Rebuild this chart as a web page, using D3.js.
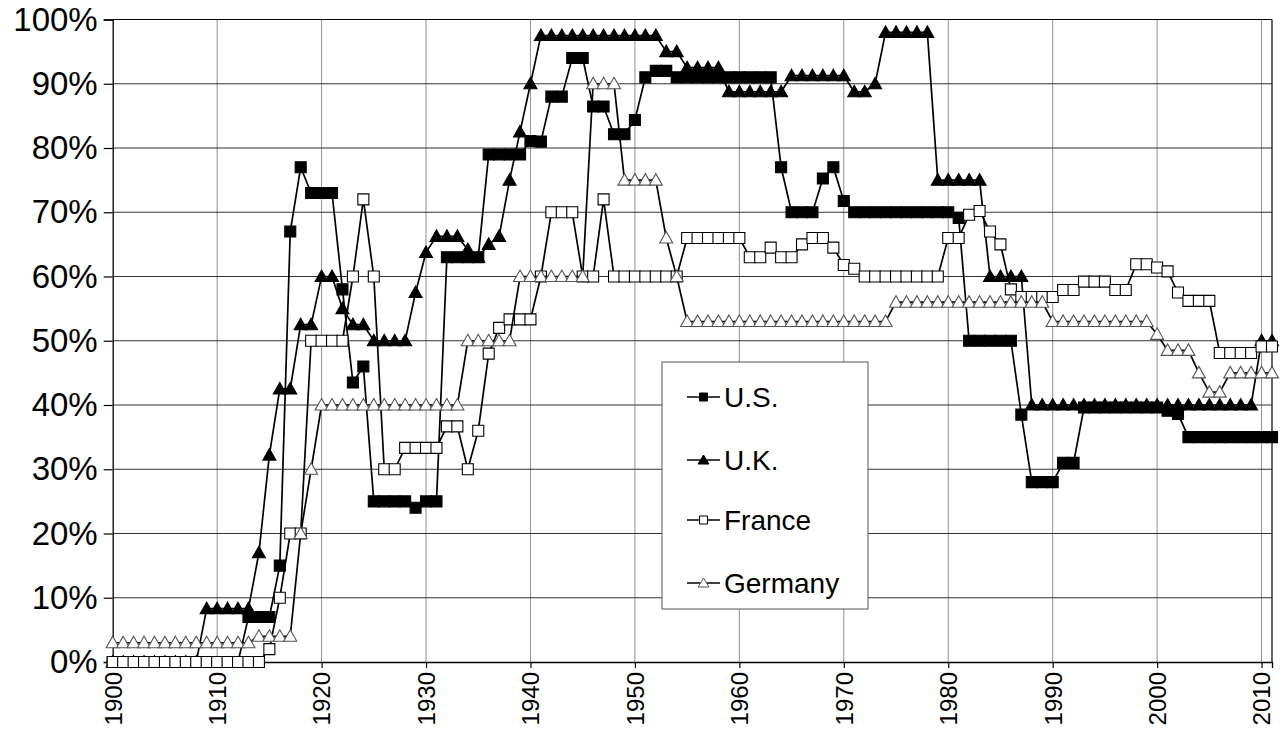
<!doctype html>
<html>
  <head>
    <meta charset="utf-8">
    <title>Top marginal income tax rates</title>
    <script src="https://cdnjs.cloudflare.com/ajax/libs/d3/7.8.5/d3.min.js"></script>
    <style>
      body { margin: 0; background: #fff; }
      text { font-family: "Liberation Sans", Arial, sans-serif; fill: #000; }
    </style>
  </head>
  <body>
    <div id="chart"></div>
    <script>
      // years 1900 .. 2011, one value per year (percent)
      const years = d3.range(1900, 2012);

      const us = [
        0, 0, 0, 0, 0, 0, 0, 0, 0, 0, 0, 0, 0,
        7, 7, 7, 15, 67, 77, 73, 73, 73, 58, 43.5, 46,
        25, 25, 25, 25, 24, 25, 25,
        63, 63, 63, 63, 79, 79, 79, 79, 81.1, 81, 88, 88, 94, 94,
        86.45, 86.45, 82.13, 82.13, 84.36, 91, 92, 92,
        91, 91, 91, 91, 91, 91, 91, 91, 91, 91,
        77, 70, 70, 70, 75.25, 77, 71.75,
        70, 70, 70, 70, 70, 70, 70, 70, 70, 70,
        69.13, 50, 50, 50, 50, 50, 38.5, 28, 28, 28, 31, 31,
        39.6, 39.6, 39.6, 39.6, 39.6, 39.6, 39.6, 39.6, 39.1, 38.6,
        35, 35, 35, 35, 35, 35, 35, 35, 35
      ];

      const uk = [
        0, 0, 0, 0, 0, 0, 0, 0, 0,
        8.3, 8.3, 8.3, 8.3, 8.3, 17, 32.2, 42.5, 42.5, 52.5, 52.5,
        60, 60, 55, 52.5, 52.5, 50, 50, 50, 50, 57.5, 63.75,
        66.25, 66.25, 66.25, 64.2, 63, 65, 66.25, 75, 82.5, 90,
        97.5, 97.5, 97.5, 97.5, 97.5, 97.5, 97.5, 97.5, 97.5, 97.5, 97.5, 97.5,
        95, 95, 92.5, 92.5, 92.5, 92.5,
        88.75, 88.75, 88.75, 88.75, 88.75, 88.75,
        91.25, 91.25, 91.25, 91.25, 91.25, 91.25, 88.75, 88.75, 90,
        98, 98, 98, 98, 98, 75, 75, 75, 75, 75, 60, 60, 60, 60,
        40, 40, 40, 40, 40, 40, 40, 40, 40, 40, 40,
        40, 40, 40, 40, 40, 40, 40, 40, 40, 40, 40,
        50, 50
      ];

      const france = [
        0, 0, 0, 0, 0, 0, 0, 0, 0, 0, 0, 0, 0, 0, 0,
        2, 10, 20, 20, 50, 50, 50, 50, 60, 72, 60, 30, 30,
        33.33, 33.33, 33.33, 33.33, 36.67, 36.67, 30, 36, 48, 52,
        53.33, 53.33, 53.33, 60, 70, 70, 70, 60, 60, 72,
        60, 60, 60, 60, 60, 60, 60, 66, 66, 66, 66, 66, 66,
        63, 63, 64.5, 63, 63, 65, 66, 66, 64.5, 61.8, 61.2,
        60, 60, 60, 60, 60, 60, 60, 60, 66, 66, 69.6, 70.2, 67, 65, 58,
        56.8, 56.8, 56.8, 56.8, 57.9, 57.9, 59.2, 59.2, 59.2, 57.9, 57.9,
        61.9, 61.9, 61.4, 60.8, 57.5, 56.2, 56.2, 56.2,
        48.1, 48.1, 48.1, 48.1, 49.1, 49.1
      ];

      const germany = [
        3, 3, 3, 3, 3, 3, 3, 3, 3, 3, 3, 3, 3, 3,
        4, 4, 4, 4, 20, 30,
        40, 40, 40, 40, 40, 40, 40, 40, 40, 40, 40, 40, 40, 40,
        50, 50, 50, 50, 50, 60, 60, 60, 60, 60, 60, 60,
        90, 90, 90, 75, 75, 75, 75, 66, 60,
        53, 53, 53, 53, 53, 53, 53, 53, 53, 53,
        53, 53, 53, 53, 53, 53, 53, 53, 53, 53,
        56, 56, 56, 56, 56, 56, 56, 56, 56, 56, 56, 56, 56, 56, 56,
        53, 53, 53, 53, 53, 53, 53, 53, 53, 53,
        51, 48.5, 48.5, 48.5, 45, 42, 42, 45, 45, 45, 45, 45
      ];

      const yTicks = [0, 10, 20, 30, 40, 50, 60, 70, 80, 90, 100];
      const xTicks = d3.range(1900, 2011, 10);

      const series = [
        { name: 'U.S.', values: us, shape: 'square', fill: '#000', stroke: '#000' },
        { name: 'U.K.', values: uk, shape: 'triangle', fill: '#000', stroke: '#000' },
        { name: 'France', values: france, shape: 'square', fill: '#fff', stroke: '#000' },
        { name: 'Germany', values: germany, shape: 'triangle', fill: '#fff', stroke: '#555' }
      ];

      const W = 1285, H = 734;
      const mLeft = 112.7, mRight = 1272, mTop = 19.5, mBottom = 662;

      const x = d3.scaleLinear().domain([1900, 2011]).range([mLeft, mRight]);
      const y = d3.scaleLinear().domain([0, 100]).range([mBottom, mTop]);

      const svg = d3.select('#chart').append('svg')
        .attr('width', W)
        .attr('height', H);

      // horizontal grid
      svg.append('g')
        .selectAll('line')
        .data(yTicks.filter(d => d > 0))
        .join('line')
        .attr('x1', mLeft).attr('x2', mRight)
        .attr('y1', d => y(d)).attr('y2', d => y(d))
        .attr('stroke', d => d === 100 ? '#000' : '#333')
        .attr('stroke-width', 1.2);

      // vertical dotted grid
      svg.append('g')
        .selectAll('line')
        .data(xTicks.filter(d => d > 1900))
        .join('line')
        .attr('x1', d => x(d)).attr('x2', d => x(d))
        .attr('y1', mTop).attr('y2', mBottom)
        .attr('stroke', '#222')
        .attr('stroke-width', 1)
        .attr('stroke-dasharray', '1,1');

      // right border
      svg.append('line')
        .attr('x1', mRight).attr('x2', mRight)
        .attr('y1', mTop).attr('y2', mBottom)
        .attr('stroke', '#000').attr('stroke-width', 1.2);

      // axes
      const yAxis = svg.append('g')
        .attr('transform', `translate(${mLeft},0)`)
        .call(d3.axisLeft(y).tickValues(yTicks).tickSize(9).tickPadding(6).tickFormat(d => d + '%'));
      yAxis.selectAll('text')
        .style('font-size', '33px')
        .style('font-family', '"Liberation Sans", Arial, sans-serif');

      const xAxis = svg.append('g')
        .attr('transform', `translate(0,${mBottom})`)
        .call(d3.axisBottom(x).tickValues(xTicks).tickSize(6).tickFormat(d3.format('d')));
      xAxis.selectAll('text')
        .style('font-size', '24px')
        .style('font-family', '"Liberation Sans", Arial, sans-serif')
        .attr('transform', 'rotate(-90)')
        .attr('text-anchor', 'end')
        .attr('x', -10)
        .attr('y', 0)
        .attr('dy', '0.35em');
      svg.selectAll('.domain').attr('stroke', '#000').attr('stroke-width', 1.3);
      svg.selectAll('.tick line').attr('stroke', '#000').attr('stroke-width', 1.2);

      const tri = 'M0,-6.5L6.5,5L-6.5,5Z';
      const sq = 'M-5.5,-5.5H5.5V5.5H-5.5Z';

      const line = d3.line()
        .x((d, i) => x(years[i]))
        .y(d => y(d));

      series.forEach(s => {
        const g = svg.append('g');
        g.append('path')
          .attr('d', line(s.values))
          .attr('fill', 'none')
          .attr('stroke', '#000')
          .attr('stroke-width', 1.7);
        g.selectAll('path.m')
          .data(s.values)
          .join('path')
          .attr('class', 'm')
          .attr('d', s.shape === 'square' ? sq : tri)
          .attr('transform', (d, i) => `translate(${x(years[i])},${y(d)})`)
          .attr('fill', s.fill)
          .attr('stroke', s.stroke)
          .attr('stroke-width', 1.1);
      });

      // legend
      const legend = svg.append('g');
      legend.append('rect')
        .attr('x', 662).attr('y', 362)
        .attr('width', 206).attr('height', 247)
        .attr('fill', '#fff')
        .attr('stroke', '#555')
        .attr('stroke-width', 1);

      const legendY = [397, 460, 520, 583];
      const items = legend.selectAll('g.item')
        .data(series)
        .join('g')
        .attr('class', 'item')
        .attr('transform', (d, i) => `translate(0,${legendY[i]})`);
      items.append('line')
        .attr('x1', 687).attr('x2', 720)
        .attr('stroke', '#000').attr('stroke-width', 1.5);
      items.append('path')
        .attr('d', d => d.shape === 'square' ? 'M-4,-4H4V4H-4Z' : 'M0,-5L5.5,4L-5.5,4Z')
        .attr('transform', 'translate(703.5,0)')
        .attr('fill', d => d.fill)
        .attr('stroke', d => d.stroke);
      items.append('text')
        .attr('x', 724)
        .attr('dy', '0.35em')
        .style('font-size', '28px')
        .text(d => d.name);
    </script>
  </body>
</html>
